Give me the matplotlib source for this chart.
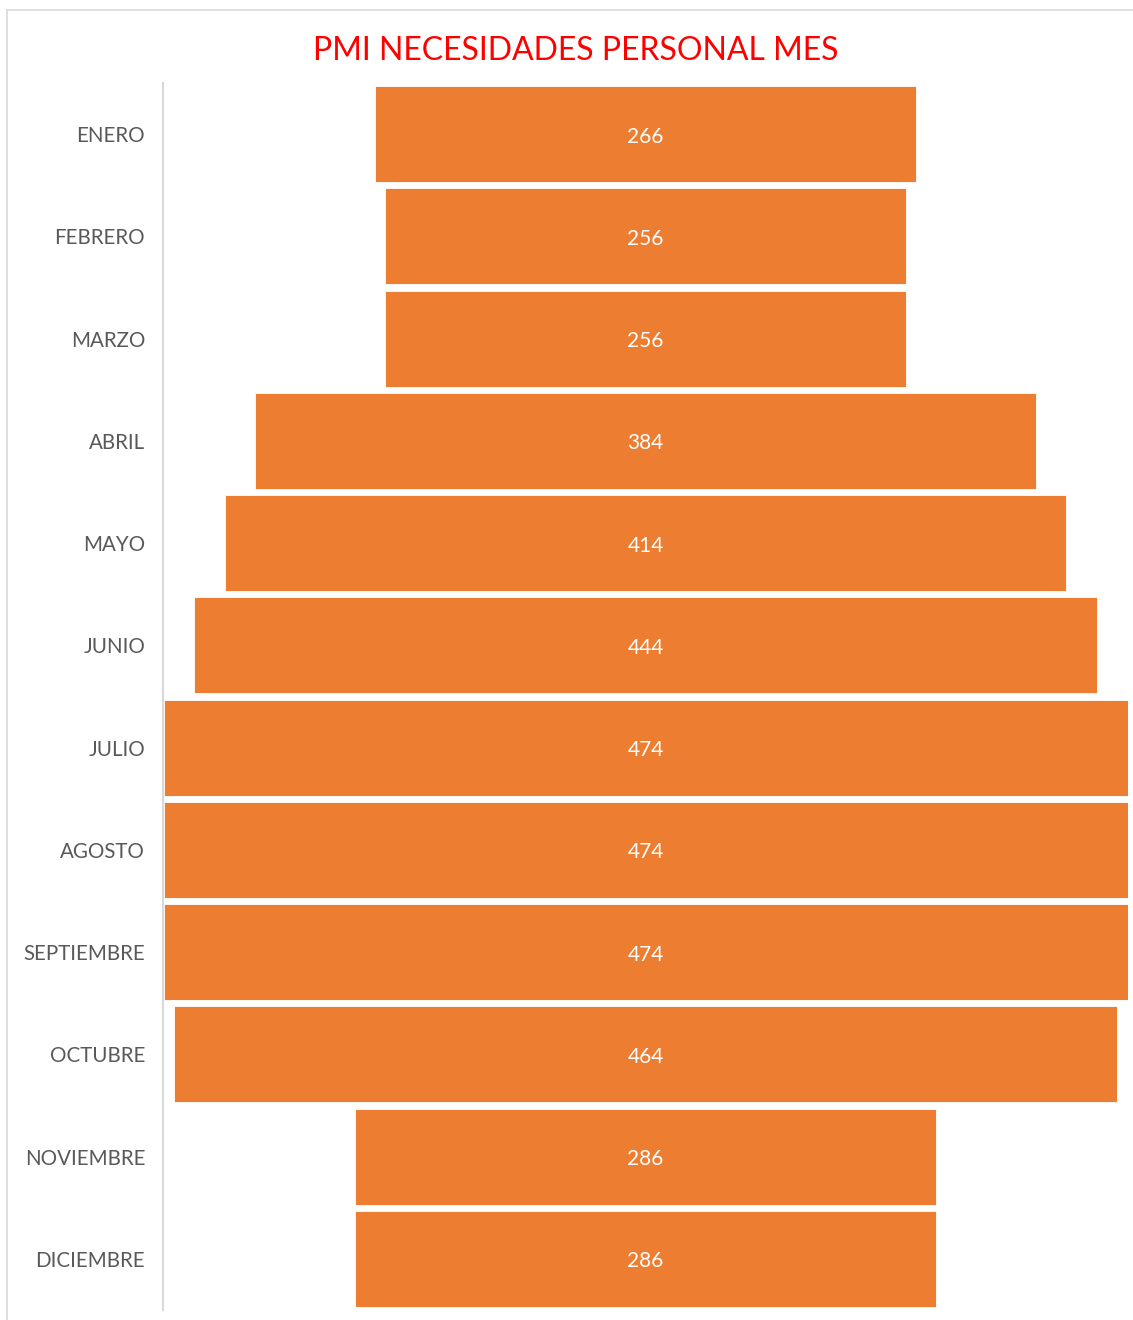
import matplotlib
matplotlib.use("Agg")
import matplotlib.pyplot as plt
from matplotlib.lines import Line2D

# ── Data ───────────────────────────────────────────────────────────────
months = ["ENERO", "FEBRERO", "MARZO", "ABRIL", "MAYO", "JUNIO",
          "JULIO", "AGOSTO", "SEPTIEMBRE", "OCTUBRE", "NOVIEMBRE", "DICIEMBRE"]
values = [266, 256, 256, 384, 414, 444, 474, 474, 474, 464, 286, 286]

TITLE = "PMI NECESIDADES PERSONAL MES"
ORANGE = "#ED7D31"
GRAY = "#595959"

plt.rcParams["font.family"] = ["Lato", "DejaVu Sans"]

W, H = 1133, 1320
fig = plt.figure(figsize=(W / 100, H / 100), dpi=100)

# axes placed in pixel coords: x 163..1128, y 83..1310
ax = fig.add_axes([162.5 / W, 1 - 1310 / H, (1127.5 - 162.5) / W, (1310 - 83) / H])

n = len(months)
ys = list(range(n))
lefts = [-v / 2 for v in values]
ax.barh(ys, values, left=lefts, height=0.94, color=ORANGE,
        edgecolor="white", linewidth=0.6)

# value labels, slightly below the bar centre like the original
for y, v in zip(ys, values):
    ax.text(0, y + 0.025, str(v), ha="center", va="center", color="white", fontsize=15)

vmax = max(values)
ax.set_xlim(-vmax / 2 - 0.5, vmax / 2)
ax.set_ylim(n - 0.5, -0.5)
ax.set_yticks(ys)
ax.set_yticklabels(months, color=GRAY, fontsize=14.8)
ax.tick_params(axis="y", length=0, pad=12.5)
ax.set_xticks([])

for s in ["top", "right", "bottom"]:
    ax.spines[s].set_visible(False)
ax.spines["left"].set_color("#D9D9D9")
ax.spines["left"].set_linewidth(1.5)

fig.text(576 / W, 1 - 51 / H, TITLE, ha="center", va="center",
         color="#FF0000", fontsize=23)

# outer chart frame (cut off at right/bottom)
fig.add_artist(Line2D([7 / W, 1.0], [1 - 10 / H, 1 - 10 / H],
                      transform=fig.transFigure, color="#D9D9D9", lw=1.2))
fig.add_artist(Line2D([7 / W, 7 / W], [0.0, 1 - 10 / H],
                      transform=fig.transFigure, color="#D9D9D9", lw=1.2))

fig.savefig("out.png", dpi=100)
